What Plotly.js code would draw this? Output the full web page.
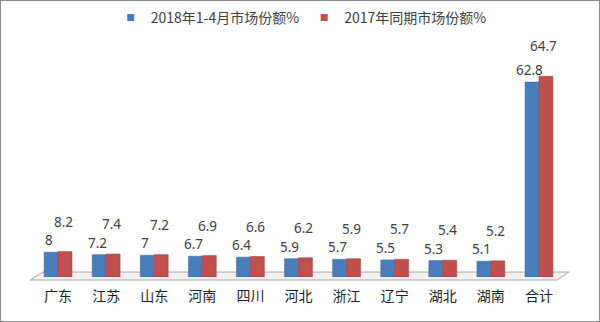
<!DOCTYPE html>
<html><head><meta charset="utf-8">
<script src="https://cdn.plot.ly/plotly-3.0.1.min.js"></script>
<style>html,body{margin:0;padding:0;background:#fff}#c{width:598px;height:320px;border:1px solid #8c8c8c}</style>
</head><body><div id="c"></div>
<script>
const categories = ["广东","江苏","山东","河南","四川","河北","浙江","辽宁","湖北","湖南","合计"];
const share2018 = [8, 7.2, 7, 6.7, 6.4, 5.9, 5.7, 5.5, 5.3, 5.1, 62.8];
const share2017 = [8.2, 7.4, 7.2, 6.9, 6.6, 6.2, 5.9, 5.7, 5.4, 5.2, 64.7];
const name2018 = "2018年1-4月市场份额%";
const name2017 = "2017年同期市场份额%";
const blue = "#4a7ebb", red = "#c0504d";
const font = "'Noto Sans CJK SC', 'Noto Sans', sans-serif";

const traces = [
  {type:"bar", x:categories, y:share2018, marker:{color:blue, line:{color:"#3a6699", width:0.5}}, showlegend:false, hoverinfo:"none"},
  {type:"bar", x:categories, y:share2017, marker:{color:red, line:{color:"#9c3b38", width:0.5}}, showlegend:false, hoverinfo:"none"},
  {type:"scatter", mode:"markers", x:[null], y:[null], name:name2018, marker:{symbol:"square", size:7, color:blue}},
  {type:"scatter", mode:"markers", x:[null], y:[null], name:name2017, marker:{symbol:"square", size:7, color:red}}
];

const annotations = [];
categories.forEach((c,i)=>{
  annotations.push({x:c, y:share2018[i], text:String(share2018[i]), showarrow:false, xshift:-9, yshift:1, yanchor:"bottom", font:{size:13.5, color:"#404040", family:"'Noto Sans', sans-serif"}});
  annotations.push({x:c, y:share2017[i], text:String(share2017[i]), showarrow:false, xshift:5, yshift:19, yanchor:"bottom", font:{size:13.5, color:"#404040", family:"'Noto Sans', sans-serif"}});
});

const layout = {
  width:598, height:320,
  margin:{l:33, r:36, t:60, b:44, autoexpand:false},
  paper_bgcolor:"#fff", plot_bgcolor:"rgba(0,0,0,0)",
  font:{family:font, color:"#333"},
  barmode:"group", bargap:0.42, bargroupgap:0,
  xaxis:{type:"category", range:[-0.5,10.5], showgrid:false, zeroline:false, showline:false, automargin:false,
         ticks:"outside", ticklen:6, tickcolor:"rgba(0,0,0,0)", tickfont:{size:14, color:"#222", family:font}, fixedrange:true},
  yaxis:{range:[0,69.6], visible:false, showgrid:false, zeroline:false, fixedrange:true},
  showlegend:true,
  legend:{orientation:"h", x:0.145, xanchor:"left", y:1.2, yanchor:"middle", font:{size:14, color:"#404040", family:font}, itemwidth:30, tracegroupgap:0},
  annotations:annotations,
  shapes:[
    {type:"path", xref:"paper", yref:"paper", layer:"below",
     path:"M -0.0076,-0.014 L 0.017,0.023 L 1.011,0.023 L 0.989,-0.014 Z",
     fillcolor:"#f2f2f2", line:{color:"#a8a8a8", width:1}}
  ]
};
Plotly.newPlot("c", traces, layout, {displayModeBar:false, staticPlot:true});
</script></body></html>
